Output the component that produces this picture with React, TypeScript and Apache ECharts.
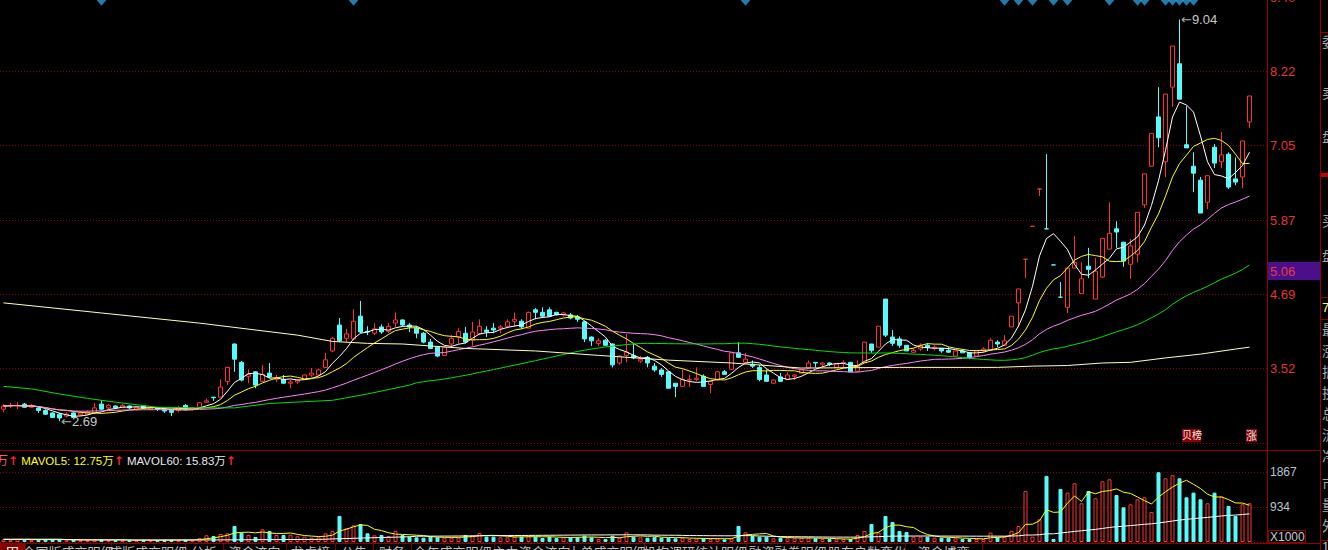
import React, { useEffect, useRef } from "react";
import * as echarts from "echarts";

// ---------- data ----------
// [open, close, low, high]
const candles: number[][] = [
  [2.88,2.93,2.83,2.96],[2.93,2.94,2.90,2.98],[2.93,2.94,2.88,2.99],[2.96,2.91,2.90,2.98],[2.91,2.94,2.90,2.96],
  [2.90,2.86,2.82,2.91],[2.86,2.80,2.79,2.88],[2.82,2.75,2.74,2.83],[2.80,2.74,2.69,2.82],[2.77,2.80,2.75,2.83],
  [2.82,2.75,2.74,2.83],[2.79,2.82,2.77,2.85],[2.80,2.83,2.79,2.86],[2.82,2.90,2.80,2.98],[2.96,2.88,2.86,3.02],
  [2.90,2.94,2.88,2.96],[2.93,2.90,2.88,2.94],[2.91,2.94,2.90,2.96],[2.93,2.90,2.88,2.94],[2.88,2.91,2.86,2.93],
  [2.93,2.90,2.88,2.94],[2.88,2.90,2.86,2.93],[2.90,2.88,2.85,2.91],[2.88,2.85,2.82,2.90],[2.86,2.83,2.77,2.88],
  [2.86,2.90,2.83,2.93],[2.94,2.88,2.86,2.96],[2.88,2.90,2.86,2.91],[2.91,2.98,2.90,2.99],[2.99,3.01,2.98,3.05],
  [3.07,3.06,3.01,3.07],[3.07,3.23,3.07,3.35],[3.32,3.54,3.26,3.55],[3.91,3.67,3.47,3.92],[3.62,3.34,3.32,3.64],
  [3.40,3.43,3.29,3.51],[3.47,3.26,3.21,3.48],[3.32,3.43,3.31,3.58],[3.45,3.39,3.37,3.61],[3.35,3.37,3.31,3.42],
  [3.35,3.29,3.28,3.42],[3.29,3.31,3.21,3.35],[3.31,3.34,3.28,3.35],[3.35,3.42,3.34,3.43],[3.42,3.45,3.39,3.53],
  [3.42,3.50,3.40,3.51],[3.54,3.66,3.53,3.77],[3.80,4.00,3.78,4.02],[4.21,3.96,3.94,4.32],[4.00,4.07,3.94,4.15],
  [3.99,4.27,3.97,4.46],[4.35,4.10,4.08,4.59],[4.11,4.10,4.05,4.19],[4.08,4.15,4.05,4.24],[4.18,4.10,4.07,4.22],
  [4.11,4.19,4.08,4.24],[4.24,4.29,4.18,4.41],[4.29,4.21,4.19,4.30],[4.21,4.18,4.10,4.24],[4.16,4.08,4.00,4.19],
  [4.08,3.94,3.92,4.10],[3.94,3.84,3.83,3.99],[3.86,3.72,3.70,3.88],[3.73,3.86,3.72,3.88],[3.91,4.00,3.85,4.05],
  [4.02,4.11,3.92,4.16],[4.08,3.94,3.92,4.18],[3.97,4.10,3.88,4.26],[4.07,4.19,4.05,4.30],[4.13,4.10,4.02,4.19],
  [4.16,4.13,4.08,4.24],[4.16,4.18,4.08,4.21],[4.19,4.26,4.16,4.30],[4.27,4.30,4.18,4.41],[4.27,4.18,4.15,4.30],
  [4.16,4.41,4.16,4.42],[4.45,4.41,4.30,4.48],[4.41,4.35,4.32,4.49],[4.45,4.35,4.34,4.49],[4.41,4.37,4.36,4.42],
  [4.37,4.40,4.34,4.42],[4.37,4.32,4.30,4.40],[4.34,4.30,4.26,4.37],[4.26,3.99,3.94,4.27],[4.02,3.96,3.88,4.03],
  [3.92,3.96,3.88,4.00],[3.97,3.89,3.88,3.99],[3.91,3.58,3.54,3.92],[3.61,3.72,3.58,3.73],[3.73,3.78,3.62,4.07],
  [3.73,3.69,3.67,3.91],[3.64,3.67,3.61,3.72],[3.70,3.61,3.54,3.72],[3.56,3.50,3.47,3.61],[3.50,3.43,3.39,3.53],
  [3.47,3.21,3.21,3.48],[3.29,3.24,3.07,3.29],[3.24,3.35,3.24,3.51],[3.34,3.35,3.23,3.42],[3.35,3.37,3.32,3.54],
  [3.40,3.24,3.24,3.43],[3.27,3.32,3.13,3.32],[3.34,3.47,3.32,3.48],[3.47,3.43,3.42,3.50],[3.51,3.77,3.50,3.77],
  [3.77,3.70,3.69,3.94],[3.62,3.67,3.61,3.77],[3.59,3.56,3.53,3.65],[3.54,3.35,3.32,3.58],[3.42,3.32,3.32,3.51],
  [3.29,3.34,3.28,3.35],[3.39,3.32,3.32,3.45],[3.35,3.42,3.34,3.46],[3.40,3.42,3.34,3.43],[3.45,3.50,3.45,3.51],
  [3.53,3.61,3.53,3.65],[3.62,3.61,3.54,3.62],[3.59,3.61,3.54,3.62],[3.61,3.59,3.56,3.62],[3.54,3.59,3.54,3.61],
  [3.61,3.62,3.54,3.65],[3.62,3.47,3.47,3.62],[3.48,3.56,3.47,3.65],[3.62,3.94,3.61,3.94],[3.91,3.81,3.77,3.91],
  [3.86,4.19,3.86,4.19],[4.62,4.05,4.02,4.62],[4.02,3.92,3.88,4.13],[3.99,3.89,3.85,4.03],[3.89,3.80,3.80,3.89],
  [3.78,3.81,3.77,3.84],[3.83,3.89,3.80,3.92],[3.89,3.86,3.80,3.92],[3.84,3.86,3.81,3.89],[3.84,3.80,3.77,3.84],
  [3.81,3.78,3.77,3.86],[3.72,3.80,3.72,3.80],[3.80,3.77,3.77,3.83],[3.77,3.70,3.67,3.77],[3.72,3.80,3.72,3.80],
  [3.81,3.83,3.78,3.86],[3.81,3.97,3.81,4.00],[3.94,3.91,3.86,3.97],[3.89,3.96,3.89,4.05],[4.18,4.35,4.18,4.35],
  [4.56,4.78,4.18,4.78],[5.25,5.25,4.95,5.25],[5.77,5.77,5.77,5.77],[6.36,6.36,6.25,6.36],[5.73,5.73,5.73,6.91],
  [5.16,5.16,5.16,5.16],[4.65,4.65,4.65,4.89],[4.49,5.11,4.40,5.11],[5.11,5.20,5.11,5.62],[4.71,4.94,4.71,5.20],
  [5.14,5.09,4.95,5.43],[4.62,5.06,4.62,5.27],[4.97,5.58,4.95,5.58],[5.41,5.66,5.41,6.15],[5.73,5.68,5.43,5.85],
  [5.52,5.22,5.13,5.52],[5.17,5.46,4.94,5.57],[5.33,5.99,5.20,5.99],[6.11,6.60,6.06,6.60],[6.72,7.24,6.72,7.24],
  [7.50,7.17,7.02,7.97],[6.79,7.86,6.55,7.86],[7.97,8.62,7.66,8.62],[8.34,7.78,7.78,9.04],[7.06,7.01,7.01,7.67],
  [6.72,6.61,6.31,6.94],[6.50,5.98,5.98,6.55],[6.15,6.57,6.04,6.57],[7.02,6.77,6.69,7.07],[6.79,6.90,6.69,7.26],
  [6.91,6.39,6.36,6.94],[6.52,6.47,6.42,6.86],[6.55,7.12,6.37,7.12],[7.42,7.83,7.32,7.83],
];

// volume, x1000
const volumes: number[] = [
  70,60,80,60,55,60,65,70,75,60, 55,50,50,75,65,50,45,50,45,50, 50,45,45,55,60,50,55,45,107,180,
  160,214,232,427,248,187,133,339,294,187, 187,195,152,142,115,125,232,294,694,365, 445,480,232,178,187,160,294,187,142,125,
  115,142,125,115,115,120,187,178,240,142, 142,125,125,142,142,160,142,107,142,107, 125,125,125,169,125,80,80,169,115,258,
  142,125,115,142,115,115,98,115,80,89, 98,80,98,71,98,427,258,160,142,142, 98,115,98,98,115,115,98,80,80,71,
  80,80,187,294,480,250,694,534,294,267, 142,142,142,115,115,115,98,80,80,80, 80,248,125,142,300,427,1361,142,605,1762,
  80,1415,1317,1566,1032,1361,1166,1619,1673,1254, 925,1005,1139,1192,801,1860,1699,1780,1699,1192, 1317,1139,1032,1317,1210,961,694,1005,1032,
];

// long moving averages read where the window reaches before the visible range
const ma60Early: number[][] = [
  [0,3.24],[4,3.20],[8,3.12],[12,3.05],[16,2.99],[22,2.91],[28,2.90],[33,2.90],[38,2.97],[47,3.02],[52,3.12],[58,3.26],
];
const ma250Read: number[][] = [
  [0,4.56],[14,4.40],[28,4.24],[42,4.05],[47,3.95],[52,3.92],[57,3.91],[66,3.84],[76,3.80],[85,3.73],[95,3.655],
  [104,3.61],[114,3.53],[128,3.54],[142,3.54],[147,3.56],[152,3.57],[157,3.61],[161,3.62],[166,3.69],[171,3.75],[176,3.83],[178,3.86],
];
const mavol60Early: number[][] = [[0,75],[8,75],[10,55],[30,55],[45,70],[52,110],[58,140]];

const markerIdx: number[] = [14, 50, 106, 143, 145, 147, 150, 152, 158, 162, 163, 166, 167, 168, 169, 170];
const priceTickLabels = ["", "3.52", "4.69", "5.87", "7.05", "8.22", "9.40"];
const volTickLabels = ["", "934", "1867"];
const highLabel = { idx: 168, value: 9.04 };
const lowLabel = { idx: 8, value: 2.69 };
const currentPrice = 5.06;
const currentPriceLabel = "5.06";
const volTitle = { mavol5: "12.75万", mavol60: "15.83万" };
const SLOTS = 181;
const categories = Array.from({ length: SLOTS }, (_, i) => `D${i + 1}`);

// ---------- style ----------
const RED = "#ff3232";
const CYAN = "#54fcfc";
const GRID_RED = "#8c0000";
const FRAME = "#900000";
const FONT = '"Liberation Sans", Arial, "Noto Sans CJK SC", sans-serif';
const ARROW_FONT = '"DejaVu Sans", sans-serif';

function movingAvg(values: number[], n: number, fullOnly = false) {
  return values.map((_, i) => {
    if (fullOnly && i < n - 1) return null;
    const s = Math.max(0, i - n + 1);
    const w = values.slice(s, i + 1);
    return +(w.reduce((a, b) => a + b, 0) / w.length).toFixed(3);
  });
}
function sparse(points: number[][], n: number) {
  const arr: (number | null)[] = new Array(n).fill(null);
  points.forEach(([i, v]) => (arr[i] = v));
  return arr;
}
function merge(a: (number | null)[], b: (number | null)[]) {
  return a.map((v, i) => (v != null ? v : b[i]));
}

export default function App() {
  const ref = useRef<HTMLDivElement>(null);
  useEffect(() => {
    document.body.style.margin = "0";
    document.body.style.background = "#000";
    const chart = echarts.init(ref.current!, null, { renderer: "svg" });
    const n = candles.length;
    const closes = candles.map((c) => c[1]);
    const isUp = (i: number) => {
      const [o, c] = candles[i];
      if (c > o) return true;
      if (c < o) return false;
      return i === 0 ? true : candles[i - 1][1] <= c;
    };
    const ma5 = movingAvg(closes, 5);
    const ma10 = movingAvg(closes, 10);
    const ma30 = movingAvg(closes, 30);
    const ma60 = merge(movingAvg(closes, 60, true), sparse(ma60Early, n));
    const ma250 = sparse(ma250Read, n);
    const mavol5 = movingAvg(volumes, 5);
    const mavol60 = merge(movingAvg(volumes, 60, true), sparse(mavol60Early, n));

    const lineS = (name: string, data: any[], color: string, xi = 0) => ({
      name, type: "line", data, xAxisIndex: xi, yAxisIndex: xi, showSymbol: false, connectNulls: true,
      lineStyle: { color, width: 1 }, itemStyle: { color }, silent: true, z: 3,
    });

    const option: any = {
      backgroundColor: "#000",
      animation: false,
      textStyle: { fontFamily: FONT },
      grid: [
        { left: 0, top: -3, width: 1267, height: 446, outerBoundsMode: "none", containLabel: false },
        { left: 0, top: 472, width: 1267, height: 70, outerBoundsMode: "none", containLabel: false },
      ],
      xAxis: [0, 1].map((g) => ({
        type: "category", gridIndex: g, data: categories, boundaryGap: true,
        axisLine: { show: false }, axisTick: { show: false }, axisLabel: { show: false }, splitLine: { show: false },
      })),
      yAxis: [
        {
          type: "value", gridIndex: 0, position: "right", min: 2.345, max: 9.395, interval: 1.175,
          axisLine: { show: false }, axisTick: { show: false },
          axisLabel: {
            margin: 3, color: "#e63232", fontSize: 13, fontFamily: FONT,
            formatter: (v: number) => priceTickLabels[Math.round((v - 2.345) / 1.175)] || "",
          },
          splitLine: { show: true, lineStyle: { color: GRID_RED, width: 1, type: [1, 2] } },
        },
        {
          type: "value", gridIndex: 1, position: "right", min: 0, max: 1867, interval: 933.5,
          axisLine: { show: false }, axisTick: { show: false },
          axisLabel: {
            margin: 3, color: "#b8c4d0", fontSize: 12, fontFamily: FONT,
            formatter: (v: number) => volTickLabels[Math.round(v / 933.5)] || "",
          },
          splitLine: { show: true, lineStyle: { color: GRID_RED, width: 1, type: [1, 2] } },
        },
      ],
      series: [
        {
          name: "K", type: "candlestick", data: candles, xAxisIndex: 0, yAxisIndex: 0, barWidth: 4,
          itemStyle: { color: "#000", color0: CYAN, borderColor: RED, borderColor0: CYAN, borderWidth: 1 },
          z: 2,
          markPoint: {
            symbol: "circle", symbolSize: 1, itemStyle: { color: "rgba(0,0,0,0)" }, silent: true,
            label: {
              show: true, position: "right", distance: 1,
              formatter: (p: any) => `{ar|←}{num|${p.value}}`,
              rich: {
                ar: { color: "#a8a8a8", fontSize: 13, fontFamily: ARROW_FONT },
                num: { color: "#c8c8c8", fontSize: 13, fontFamily: FONT },
              },
            },
            data: [
              { coord: [highLabel.idx, highLabel.value], value: highLabel.value.toFixed(2) },
              { coord: [lowLabel.idx, lowLabel.value], value: lowLabel.value.toFixed(2) },
            ],
          },
        },
        lineS("MA5", ma5, "#ffffff"),
        lineS("MA10", ma10, "#ffff00"),
        lineS("MA30", ma30, "#ff80ff"),
        lineS("MA60", ma60, "#00e000"),
        lineS("MA250", ma250, "#ffffb8"),
        {
          name: "events", type: "scatter", xAxisIndex: 0, yAxisIndex: 0, clip: false,
          data: markerIdx.map((i) => [i, 9.35]), symbol: "diamond", symbolSize: [10, 12],
          itemStyle: { color: "#2a9bd6" }, silent: true, z: 4,
        },
        {
          name: "VOL", type: "bar", xAxisIndex: 1, yAxisIndex: 1, barWidth: 4,
          data: volumes.map((v, i) => ({
            value: v,
            itemStyle: isUp(i)
              ? { color: "#000", borderColor: RED, borderWidth: 1 }
              : { color: CYAN, borderColor: CYAN, borderWidth: 1 },
          })),
          z: 2,
        },
        lineS("MAVOL5", mavol5, "#ffff00", 1),
        lineS("MAVOL60", mavol60, "#ffffff", 1),
      ],
    };
    chart.setOption(option);

    const py = chart.convertToPixel({ yAxisIndex: 0 }, currentPrice) as number;
    const hl = (x1: number, y1: number, x2: number, y2: number, color = FRAME, w = 1) => ({
      type: "line", shape: { x1, y1, x2, y2 }, style: { stroke: color, lineWidth: w }, silent: true,
    });
    const txt = (x: number, y: number, text: string, fill: string, size = 12, extra: any = {}) => ({
      type: "text", x, y, silent: true,
      style: { text, fill, font: `${size}px ${FONT}`, textVerticalAlign: "middle", verticalAlign: "middle", ...extra },
    });

    const tabs: [string, number, number][] = [
      ["田", 0, 25], ["全国版成交明细", 25, 111], ["成版成交明细", 111, 185], ["分析", 185, 223],
      ["资金流向", 223, 286], ["龙虎榜", 286, 335], ["公告", 335, 373], ["财务", 373, 411],
      ["全年成交明细", 411, 494], ["主力资金流向", 494, 569], ["大单成交明细", 569, 644],
      ["机构调研统计明细", 644, 746], ["融资融券明细", 746, 829], ["股东户数变化", 829, 905], ["资金博弈", 905, 982],
    ];
    const sideChars: [number, string][] = [
      [42, "委"], [93, "卖"], [137, "盘"], [221, "买"], [256, "盘"], [330, "最"], [351, "涨"], [372, "振"],
      [393, "换"], [414, "总"], [435, "流"], [456, "净"], [484, "市"], [505, "量"], [526, "外"],
    ];

    const graphics: any[] = [
      hl(0, 450.5, 1320, 450.5),
      hl(0, 543.5, 1320, 543.5),
      hl(1267.5, 0, 1267.5, 544),
      hl(1320.5, 0, 1320.5, 550),
      hl(1320, 32.5, 1328, 32.5),
      hl(1320, 297.5, 1328, 297.5),
      hl(1320, 319.5, 1328, 319.5),
      hl(1320, 540.5, 1328, 540.5),
      { type: "rect", shape: { x: 1321, y: 173, width: 7, height: 4 }, style: { fill: "#c00000" }, silent: true },
      // current price tag
      { type: "rect", shape: { x: 1268, y: Math.round(py) - 9, width: 52, height: 18 }, style: { fill: "#4b0f8c" }, silent: true },
      txt(1270, py, currentPriceLabel, "#e63c3c", 13),
      // X1000 box
      { type: "rect", shape: { x: 1268.5, y: 530.5, width: 37, height: 12 }, style: { fill: "none", stroke: FRAME, lineWidth: 1 }, silent: true },
      txt(1270, 537, "X1000", "#c0c8d0", 12),
      // volume title
      txt(-4, 461, "万", "#ff5a5a", 12),
      {
        type: "text", x: 8, y: 461, silent: true,
        style: {
          text: `{r|↑} {y|MAVOL5: ${volTitle.mavol5}}{r|↑} {w|MAVOL60: ${volTitle.mavol60}}{r|↑}`,
          font: `11.5px ${FONT}`, verticalAlign: "middle", textVerticalAlign: "middle",
          rich: {
            r: { fill: "#ff2020", font: `bold 12px ${ARROW_FONT}` },
            y: { fill: "#ffff00", font: `11.5px ${FONT}` },
            w: { fill: "#e8e8e8", font: `11.5px ${FONT}` },
          },
        },
      },
      // tags
      { type: "rect", shape: { x: 1182, y: 429, width: 19, height: 13 }, style: { fill: "#8b0000" }, silent: true },
      txt(1182, 435.5, "贝榜", "#e8e8e8", 10),
      { type: "rect", shape: { x: 1246, y: 429, width: 11, height: 13 }, style: { fill: "#8b0000" }, silent: true },
      txt(1246, 435.5, "涨", "#e8e8e8", 11),
      // bottom tab bar
      { type: "rect", shape: { x: 0, y: 544, width: 25, height: 6 }, style: { fill: "#8b0000" }, silent: true },
      txt(1322, 307, "7", "#ffff40", 13),
      txt(1322, 546, "1", "#c0c0c0", 13),
    ];
    tabs.forEach(([label, x0, x1], k) => {
      graphics.push(hl(x1 + 0.5, 544, x1 + 0.5, 550, "#6a0000"));
      graphics.push({
        type: "text", x: (x0 + x1) / 2, y: 546, silent: true,
        style: { text: label, fill: k === 0 ? "#ffffff" : "#c0c0c0", font: `13px ${FONT}`, textAlign: "center", align: "center", verticalAlign: "top", textVerticalAlign: "top" },
      });
    });
    sideChars.forEach(([y, ch]) => graphics.push(txt(1322, y, ch, "#a8a8a8", 14)));

    chart.setOption({ graphic: graphics });
    return () => chart.dispose();
  }, []);
  return (
    <div
      ref={ref}
      style={{ position: "fixed", left: 0, top: 0, width: 1328, height: 550, background: "#000" }}
    />
  );
}
